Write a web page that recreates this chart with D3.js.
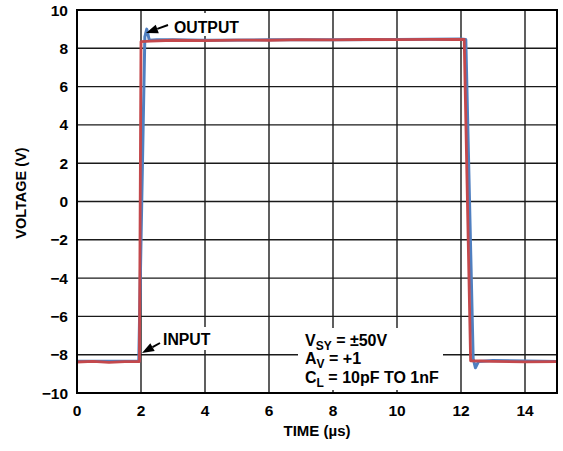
<!DOCTYPE html>
<html><head><meta charset="utf-8">
<script src="https://cdn.jsdelivr.net/npm/d3@7"></script>
<style>body{margin:0;background:#fff}text{font-family:"Liberation Sans",Arial,sans-serif;font-weight:bold;fill:#000}</style>
</head><body><svg id="c" width="563" height="451"></svg>
<script>
const xTicks = [0, 2, 4, 6, 8, 10, 12, 14];
const yTicks = [-10, -8, -6, -4, -2, 0, 2, 4, 6, 8, 10];
const xTitle = "TIME (µs)";
const yTitle = "VOLTAGE (V)";
// INPUT trace (red)
const inputT = [0, 0.5, 1.0, 1.5, 1.95, 2.0, 2.3, 3, 4, 5, 6, 7, 8, 9, 10, 11, 11.8, 12.1, 12.3, 12.6, 13, 14, 15];
const inputV = [-8.38, -8.35, -8.40, -8.36, -8.36, 8.35, 8.37, 8.42, 8.40, 8.43, 8.42, 8.45, 8.44, 8.46, 8.45, 8.47, 8.46, 8.46, -8.32, -8.33, -8.35, -8.37, -8.36];
// OUTPUT trace (blue)
const outputT = [0, 1, 1.9, 1.93, 2.12, 2.18, 2.26, 2.5, 3, 4, 6, 8, 10, 12, 12.15, 12.38, 12.45, 12.55, 13, 14, 15];
const outputV = [-8.34, -8.34, -8.34, -8.34, 8.6, 9.0, 8.42, 8.45, 8.44, 8.42, 8.44, 8.45, 8.46, 8.48, 8.46, -8.2, -8.68, -8.35, -8.30, -8.33, -8.35];
const notes = [["V", "SY", " = ±50V"], ["A", "V", " = +1"], ["C", "L", " = 10pF TO 1nF"]];

const svg = d3.select("#c");
const L = 77, T = 10, R = 557, B = 393;
const x = d3.scaleLinear().domain([0, 15]).range([L, R]);
const y = d3.scaleLinear().domain([-10, 10]).range([B, T]);

// grid
const g = svg.append("g");
g.selectAll("line.v").data(xTicks.filter(d => d > 0)).enter().append("line")
  .attr("x1", d => x(d)).attr("x2", d => x(d)).attr("y1", T).attr("y2", B)
  .attr("stroke", "#1a1a1a").attr("stroke-width", 1.4);
g.selectAll("line.h").data(yTicks.filter(d => d > -10 && d < 10)).enter().append("line")
  .attr("x1", L).attr("x2", R).attr("y1", d => y(d)).attr("y2", d => y(d))
  .attr("stroke", "#1a1a1a").attr("stroke-width", 1.4);

// white masks behind annotations
svg.append("rect").attr("x", 170).attr("y", 13).attr("width", 76).attr("height", 23).attr("fill", "#fff");
svg.append("rect").attr("x", 160).attr("y", 327).attr("width", 56).attr("height", 23).attr("fill", "#fff");
svg.append("rect").attr("x", 298).attr("y", 328).attr("width", 145).attr("height", 62).attr("fill", "#fff");

// traces
const line = d3.line().x(d => x(d[0])).y(d => y(d[1]));
svg.append("path").datum(d3.zip(outputT, outputV)).attr("d", line)
  .attr("fill", "none").attr("stroke", "#4f7fc0").attr("stroke-width", 3).attr("stroke-linejoin", "round");
svg.append("path").datum(d3.zip(inputT, inputV)).attr("d", line)
  .attr("fill", "none").attr("stroke", "#c4484c").attr("stroke-width", 2.8).attr("stroke-linejoin", "round");

// frame
svg.append("rect").attr("x", L).attr("y", T).attr("width", R - L).attr("height", B - T)
  .attr("fill", "none").attr("stroke", "#000").attr("stroke-width", 2);

// tick labels
svg.selectAll("text.yt").data(yTicks).enter().append("text")
  .attr("x", 68).attr("y", d => y(d) + 5.5).attr("text-anchor", "end").attr("font-size", 15.5)
  .text(d => d < 0 ? "\u2212" + Math.abs(d) : d);
svg.selectAll("text.xt").data(xTicks).enter().append("text")
  .attr("x", d => x(d)).attr("y", 416).attr("text-anchor", "middle").attr("font-size", 15.5)
  .text(d => d);

// axis titles
svg.append("text").attr("x", 317).attr("y", 436).attr("text-anchor", "middle").attr("font-size", 15).text(xTitle);
svg.append("text").attr("transform", "translate(26,193) rotate(-90)").attr("text-anchor", "middle").attr("font-size", 14.5).text(yTitle);

// annotations
function arrow(x1, y1, x2, y2) {
  const ang = Math.atan2(y2 - y1, x2 - x1);
  const hl = 12, hw = 4.5;
  const bx = x2 - hl * Math.cos(ang), by = y2 - hl * Math.sin(ang);
  svg.append("line").attr("x1", x1).attr("y1", y1).attr("x2", bx).attr("y2", by).attr("stroke", "#000").attr("stroke-width", 2);
  const px = -Math.sin(ang) * hw, py = Math.cos(ang) * hw;
  svg.append("path").attr("d", `M${x2},${y2}L${bx + px},${by + py}L${bx - px},${by - py}Z`).attr("fill", "#000");
}
svg.append("text").attr("x", 174).attr("y", 33).attr("font-size", 15.8).text("OUTPUT");
arrow(168, 25, 146, 33);
svg.append("text").attr("x", 163).attr("y", 345).attr("font-size", 15.8).text("INPUT");
arrow(160, 343, 142, 353);

const baselines = [346, 364, 383];
notes.forEach((n, i) => {
  const t = svg.append("text").attr("x", 305).attr("y", baselines[i]).attr("font-size", 16);
  t.append("tspan").text(n[0]);
  t.append("tspan").attr("dy", 4).attr("font-size", 12).text(n[1]);
  t.append("tspan").attr("dy", -4).text(n[2]);
});
</script></body></html>
